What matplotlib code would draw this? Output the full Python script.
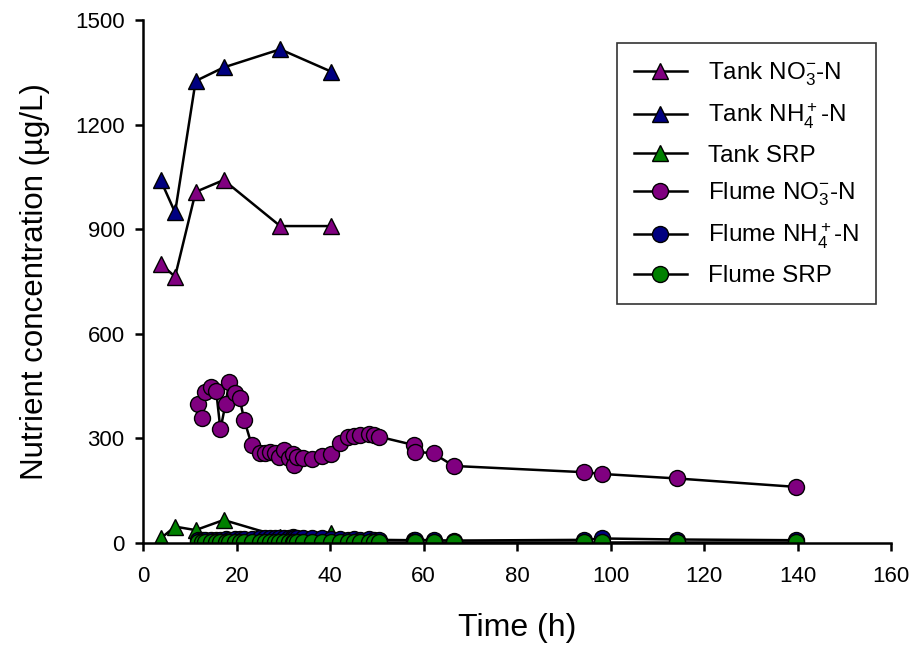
import matplotlib
matplotlib.use("Agg")
import matplotlib.pyplot as plt

plt.rcParams['font.family'] = ['Liberation Sans', 'DejaVu Sans']
plt.rcParams['mathtext.fontset'] = 'custom'
plt.rcParams['mathtext.rm'] = 'Liberation Sans'
plt.rcParams['mathtext.it'] = 'Liberation Sans'
plt.rcParams['mathtext.bf'] = 'Liberation Sans'

# Tank data
tank_time = [3.7, 6.8, 11.2, 17.2, 29.3, 40.2]
tank_no3 = [800, 764, 1007, 1041, 909, 909]
tank_nh4 = [1041, 948, 1325, 1364, 1416, 1352]
tank_srp = [13, 47, 37, 66, 18, 30]

# Flume data
flume_time = [11.6, 12.5, 13.2, 14.4, 15.6, 16.5, 17.6, 18.4, 19.6, 20.6,
              21.6, 23.2, 25.0, 26.1, 27.1, 28.2, 29.1, 30.1, 31.1, 32.0,
              32.3, 32.9, 34.2, 36.1, 38.2, 40.2, 42.1, 43.9, 45.0, 46.3,
              48.2, 49.3, 50.4, 57.9, 58.2, 62.1, 66.4, 94.4, 98.2, 114.3,
              139.6]
flume_no3 = [399, 358, 434, 448, 436, 326, 399, 463, 429, 415,
             353, 281, 257, 259, 262, 257, 248, 267, 243, 255,
             224, 248, 243, 240, 249, 255, 286, 303, 307, 310,
             313, 310, 305, 281, 262, 257, 221, 203, 198, 185,
             161]
flume_nh4 = [8, 9, 9, 10, 9, 10, 11, 10, 11, 12,
             11, 12, 13, 14, 13, 14, 15, 14, 15, 16,
             15, 14, 15, 13, 14, 12, 11, 10, 11, 10,
             12, 10, 9, 8, 9, 8, 7, 9, 13, 10,
             8]
flume_srp = [2, 2, 2, 2, 2, 2, 2, 2, 2, 2,
             2, 2, 2, 2, 2, 2, 2, 2, 2, 2,
             2, 2, 2, 2, 2, 2, 2, 2, 2, 2,
             2, 2, 2, 2, 2, 2, 2, 2, 2, 2,
             2]

labels = [r'Tank NO$_3^{\mathrm{-}}$-N', r'Tank NH$_4^+$-N', 'Tank SRP',
          r'Flume NO$_3^{\mathrm{-}}$-N', r'Flume NH$_4^+$-N', 'Flume SRP']

purple = '#800080'
navy = '#000080'
green = '#008000'

fig = plt.figure(figsize=(9.14, 6.45), dpi=100)
ax = fig.add_axes([143.3 / 914, (645 - 543) / 645, (891 - 143.3) / 914, (543 - 20) / 645])

common = dict(color='black', lw=1.8, mec='black', mew=1.0)
ax.plot(tank_time, tank_no3, marker='^', ms=12, mfc=purple, label=labels[0], **common)
ax.plot(tank_time, tank_nh4, marker='^', ms=12, mfc=navy, label=labels[1], **common)
ax.plot(tank_time, tank_srp, marker='^', ms=12, mfc=green, label=labels[2], **common)
ax.plot(flume_time, flume_no3, marker='o', ms=11.5, mfc=purple, label=labels[3], **common)
ax.plot(flume_time, flume_nh4, marker='o', ms=11.5, mfc=navy, label=labels[4], **common)
ax.plot(flume_time, flume_srp, marker='o', ms=11.5, mfc=green, label=labels[5], **common)

ax.set_xlim(0, 160)
ax.set_ylim(0, 1500)
ax.set_xticks(range(0, 161, 20))
ax.set_yticks(range(0, 1501, 300))
for s in ['top', 'right']:
    ax.spines[s].set_visible(False)
for s in ['left', 'bottom']:
    ax.spines[s].set_linewidth(1.8)
ax.tick_params(direction='out', length=5.5, width=1.8, labelsize=16)
ax.tick_params(axis='x', pad=11)
ax.tick_params(axis='y', pad=8)

ax.set_xlabel('Time (h)', fontsize=23, labelpad=19)
ax.set_ylabel('Nutrient concentration (µg/L)', fontsize=22.5, labelpad=18)

leg = ax.legend(loc='upper right', bbox_to_anchor=(0.980, 0.956), borderaxespad=0,
                fontsize=17.5, numpoints=1, handlelength=2.2, handletextpad=0.85,
                labelspacing=0.57, fancybox=False, frameon=True, borderpad=0.7)
leg.get_frame().set_edgecolor('black')
leg.get_frame().set_linewidth(1.2)

fig.savefig('out.png', dpi=100)
